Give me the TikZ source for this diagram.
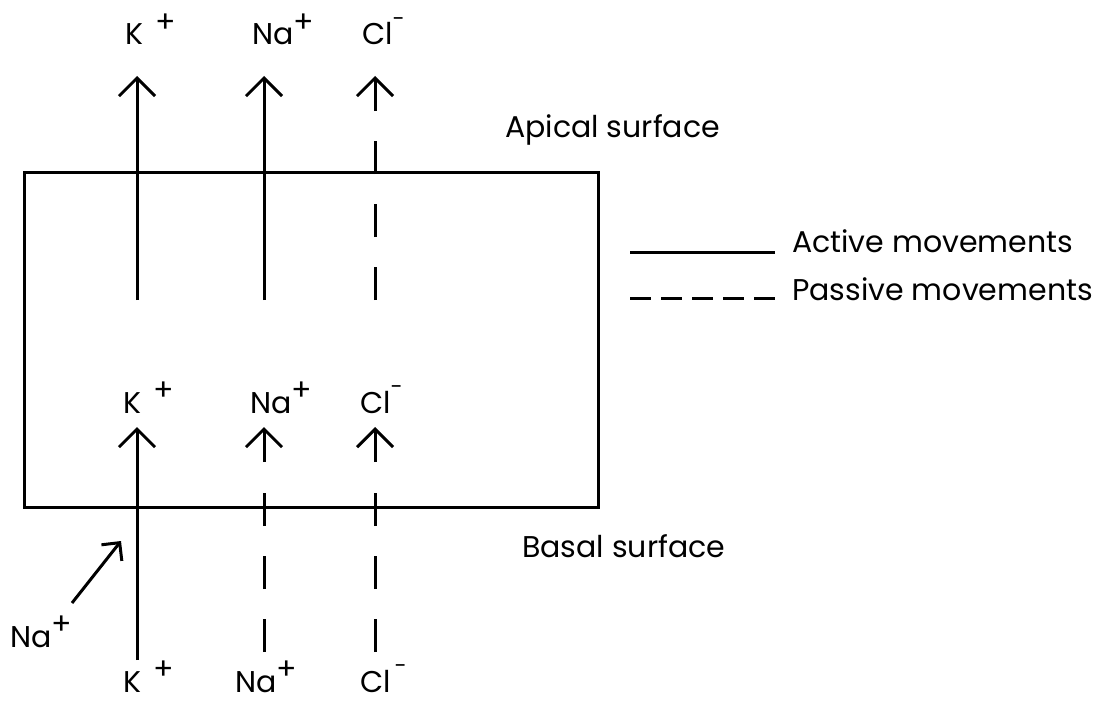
\documentclass[tikz,border=0pt]{standalone}
\usepackage{fontspec}
\setmainfont{Poppins}
\usetikzlibrary{arrows.meta}
\newcommand\upion[1]{\raisebox{0.42em}{\fontsize{30}{30}\selectfont #1}}
\newcommand\upneg{\raisebox{0.62em}{\fontsize{22}{22}\selectfont -}}
\begin{document}
\begin{tikzpicture}[x=1pt,y=-1pt,
  lbl/.style={anchor=base west,inner sep=0pt,font=\fontsize{30}{36}\selectfont},
  active/.style={line width=3pt},
  passive/.style={line width=3pt,dash pattern=on 33pt off 30pt},
  legdash/.style={line width=3pt,dash pattern=on 21pt off 10pt},
  tip/.style={-{Straight Barb[length=18pt,width=36pt]}},
  smalltip/.style={-{Straight Barb[length=13pt,width=26pt]}}]
\useasboundingbox (0,0) rectangle (1098,701);
% cell
\node[draw,line width=3pt,minimum width=574pt,minimum height=335pt,inner sep=0pt] (cell) at (311,339.5) {};
% top labels
\node[lbl] (kt) at (125,45) {K\hspace{12pt}\upion{+}};
\node[lbl] (nat) at (252,45) {Na\upion{+}};
\node[lbl] (clt) at (362,45) {Cl\upneg};
% inner labels
\node[lbl] (km) at (123,413) {K\hspace{12pt}\upion{+}};
\node[lbl] (nam) at (250,413) {Na\upion{+}};
\node[lbl] (clm) at (360,413) {Cl\upneg};
% bottom labels
\node[lbl] (kb) at (123,692) {K\hspace{12pt}\upion{+}};
\node[lbl] (nab) at (235,692) {Na\upion{+}};
\node[lbl] (clb) at (360,692) {Cl\hspace{4pt}\upneg};
\node[lbl] (nal) at (10,647) {Na\upion{+}};
% surface labels and legend
\node[lbl] (apical) at (505,137) {Apical surface};
\node[lbl] (basal) at (522,557) {Basal surface};
\node[lbl] (act) at (792,252) {Active movements};
\node[lbl] (pas) at (792,300) {Passive movements};
% coordinates
\coordinate (kTs) at (137,300); \coordinate (kTt) at (137,76);
\coordinate (naTs) at (264,300); \coordinate (naTt) at (264,76);
\coordinate (clTs) at (375,300); \coordinate (clTt) at (375,76);
\coordinate (kBs) at (137,660); \coordinate (kBt) at (137,427);
\coordinate (naBs) at (264,652); \coordinate (naBe) at (264,492);
\coordinate (naBa) at (264,462); \coordinate (naBt) at (264,427);
\coordinate (clBs) at (375,652); \coordinate (clBe) at (375,492);
\coordinate (clBa) at (375,462); \coordinate (clBt) at (375,427);
\coordinate (diagS) at (72,603); \coordinate (diagT) at (121,541);
\coordinate (la1) at (630,252); \coordinate (la2) at (775,252);
\coordinate (lp1) at (630,298); \coordinate (lp2) at (775,298);
% apical movements
\draw[active,tip] (kTs) -- (kTt);
\draw[active,tip] (naTs) -- (naTt);
\draw[passive,tip] (clTs) -- (clTt);
% basal movements
\draw[active,tip] (kBs) -- (kBt);
\draw[passive] (naBs) -- (naBe);
\draw[active,tip] (naBa) -- (naBt);
\draw[passive] (clBs) -- (clBe);
\draw[active,tip] (clBa) -- (clBt);
\draw[active,smalltip] (diagS) -- (diagT);
% legend
\draw[active] (la1) -- (la2);
\draw[legdash] (lp1) -- (lp2);
\end{tikzpicture}
\end{document}
